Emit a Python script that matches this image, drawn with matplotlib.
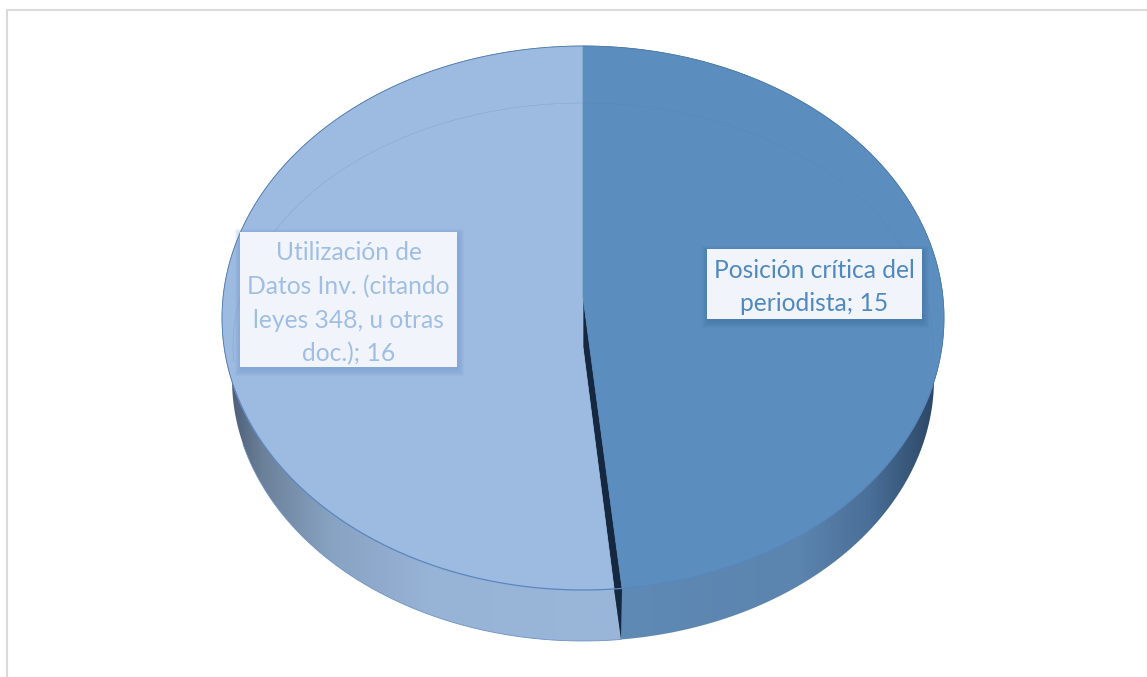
import numpy as np
import matplotlib
matplotlib.use("Agg")
import matplotlib.pyplot as plt
from matplotlib.colors import to_rgb
from matplotlib.patches import Polygon, Rectangle

# data
categories = ["Posición crítica del\nperiodista", "Utilización de\nDatos Inv. (citando\nleyes 348, u otras\ndoc.)"]
values = [15, 16]

# look of the 3D pie, in pixels
TOP = (583, 318, 361, 272)
BOTTOM = (583, 379, 351, 262)
INNER = (583, 346.5, 350, 243.5)
DARK = "#5B8DBE"
LIGHT = "#9DBAE0"


def ell(e, t):
    # t is clockwise from 12 o'clock
    t = np.asarray(t)
    return np.column_stack([e[0] + e[2] * np.sin(t), e[1] - e[3] * np.cos(t)])


def slice_poly(e, a, b, apex=None, n=300):
    pts = ell(e, np.linspace(a, b, n))
    if apex is None:
        apex = (e[0], e[1])
    return np.vstack([[apex], pts])


def gradient_wall(ax, poly, stops, colors):
    # horizontal colour ramp clipped to the wall shape
    xs = np.linspace(200, 960, 760)
    rgb = np.array([to_rgb(c) for c in colors])
    img = np.stack([np.interp(xs, stops, rgb[:, i]) for i in range(3)], axis=1)[None, :, :]
    im = ax.imshow(img, extent=(200, 960, 660, 300), aspect="auto", zorder=1, interpolation="bilinear")
    patch = Polygon(poly, closed=True, transform=ax.transData, fc="none", ec="none")
    ax.add_patch(patch)
    im.set_clip_path(patch)


def label_box(ax, x0, y0, x1, y1, text, color, shadow, dy):
    # soft shadow under the label
    for i in range(7):
        grow = 7 - i
        ax.add_patch(Rectangle((x0 - grow + 2, y0 - grow + 4), x1 - x0 + 2 * grow - 2, y1 - y0 + 2 * grow - 2,
                               fc=shadow, ec="none", alpha=0.09, zorder=5))
    ax.add_patch(Rectangle((x0, y0), x1 - x0, y1 - y0, fc="#F1F5FB", ec="none", zorder=6))
    ax.text((x0 + x1) / 2, (y0 + y1) / 2 + dy, text, color=color, ha="center", va="center",
            fontsize=17.7, family="Lato", linespacing=1.55, zorder=7)


split = values[0] / sum(values) * 2 * np.pi
cut_r = split - 0.007
cut_l = split + 0.015

fig = plt.figure(figsize=(11.47, 6.77), dpi=100)
ax = fig.add_axes([0, 0, 1, 1])

# side walls
left_wall = slice_poly(BOTTOM, cut_r, 2 * np.pi)
right_wall = slice_poly(BOTTOM, 0, cut_r)
gradient_wall(ax, left_wall, [232, 262, 330, 430, 620], ["#4E6078", "#6B8099", "#88A2C2", "#97B3D6", "#9AB6D9"])
gradient_wall(ax, right_wall, [622, 800, 870, 935], ["#5F8AB5", "#5B84AE", "#4A6F98", "#2C4766"])

# dark cut between the two slices
apex_r = (583, 297)
apex_l = (583, 347)
end_r = ell(TOP, [cut_r])[0]
end_l = ell(TOP, [cut_l])[0]
end_b = ell(BOTTOM, [cut_r])[0]
ax.add_patch(Polygon([apex_r, end_r, end_b, end_l, apex_l], closed=True, fc="#16283F", ec="none", zorder=2))

# top faces
ax.add_patch(Polygon(slice_poly(TOP, cut_l, 2 * np.pi, apex_l), closed=True, fc=LIGHT, ec=LIGHT, lw=0.5, zorder=3))
ax.add_patch(Polygon(slice_poly(TOP, 0, cut_r, apex_r), closed=True, fc=DARK, ec=DARK, lw=0.5, zorder=3))

# outlines and bevel line
t = np.linspace(-np.pi * 0.58, np.pi * 0.58, 400)
p = ell(TOP, t)
ax.plot(p[:, 0], p[:, 1], color="#4A78A8", lw=0.6, zorder=4)
t = np.linspace(np.pi * 0.58, np.pi * 1.42, 400)
p = ell(TOP, t)
ax.plot(p[:, 0], p[:, 1], color="#5A86C0", lw=0.9, zorder=4)
t = np.linspace(-np.pi * 0.52, np.pi * 0.52, 400)
p = ell(INNER, t)
ax.plot(p[:, 0], p[:, 1], color="#4F7FAF", lw=0.4, alpha=0.3, zorder=4)
t = np.linspace(cut_r, np.pi * 1.42, 300)
p = ell(BOTTOM, t)
ax.plot(p[:, 0], p[:, 1], color="#6F93C4", lw=0.6, zorder=2)

# data labels
label_box(ax, 707, 249, 922, 319, f"{categories[0]}; {values[0]}", "#4F89BF", "#3E6E9E", 3)
label_box(ax, 240, 232, 457, 367, f"{categories[1]}; {values[1]}", "#A0BEE4", "#6F97CC", 4)

# frame of the picture
ax.plot([6.5, 6.5, 1147], [677, 9.5, 9.5], color="#DADADA", lw=1.5, zorder=8)

ax.set_xlim(0, 1147)
ax.set_ylim(677, 0)
ax.axis("off")
fig.savefig("out.png", dpi=100, facecolor="white")
